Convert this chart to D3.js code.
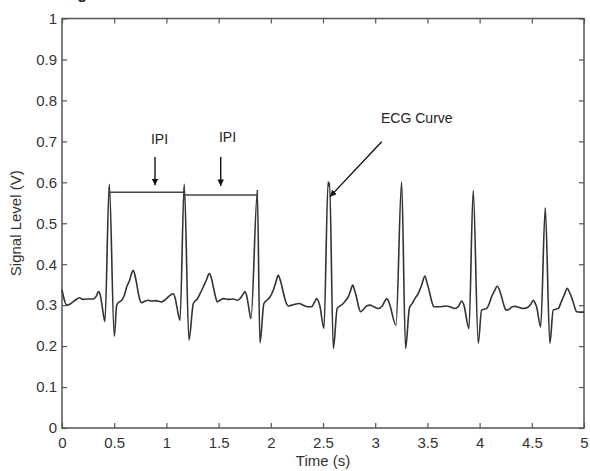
<!DOCTYPE html>
<meta charset="utf-8">
<style>
body { margin: 0; background: #fff; }
svg text { font-family: "Liberation Sans", Arial, sans-serif; fill: #333; }
.curve { fill: none; stroke: #333; stroke-width: 1.6px; stroke-linejoin: round; }
.frame { fill: none; stroke: #555; stroke-width: 1.5px; }
.axis path { display: none; }
.axis line { stroke: #555; stroke-width: 1.2px; }
.axis text { font-size: 15px; fill: #333; }
.bracket { stroke: #444; stroke-width: 1.5px; fill: none; }
.arrow { stroke: #111; stroke-width: 1.4px; }
</style>
<body>
<script src="https://d3js.org/d3.v7.min.js"></script>
<script>

// ECG trace
var time = [
  0.000, 0.020, 0.045, 0.080, 0.125, 0.169, 0.199, 0.239, 0.299, 0.329,
  0.349, 0.369, 0.383, 0.411, 0.453, 0.501, 0.524, 0.548, 0.572, 0.598,
  0.620, 0.647, 0.667, 0.683, 0.697, 0.717, 0.731, 0.747, 0.763, 0.797,
  0.827, 0.859, 0.896, 0.954, 0.996, 1.018, 1.046, 1.066, 1.086, 1.101,
  1.130, 1.171, 1.216, 1.258, 1.295, 1.322, 1.354, 1.384, 1.411, 1.429,
  1.449, 1.469, 1.488, 1.514, 1.545, 1.594, 1.640, 1.683, 1.705, 1.733,
  1.753, 1.773, 1.788, 1.810, 1.871, 1.896, 1.934, 1.962, 1.992, 2.022,
  2.047, 2.072, 2.092, 2.120, 2.141, 2.167, 2.201, 2.231, 2.271, 2.311,
  2.351, 2.390, 2.420, 2.439, 2.455, 2.470, 2.509, 2.549, 2.557, 2.563,
  2.599, 2.636, 2.664, 2.694, 2.719, 2.742, 2.764, 2.784, 2.804, 2.822,
  2.839, 2.861, 2.888, 2.918, 2.950, 2.988, 3.028, 3.068, 3.088, 3.110,
  3.127, 3.141, 3.199, 3.253, 3.291, 3.327, 3.357, 3.380, 3.412, 3.446,
  3.476, 3.496, 3.524, 3.546, 3.563, 3.607, 3.652, 3.685, 3.715, 3.764,
  3.795, 3.828, 3.850, 3.898, 3.939, 3.987, 4.019, 4.067, 4.094, 4.114,
  4.143, 4.169, 4.193, 4.211, 4.233, 4.252, 4.283, 4.313, 4.339, 4.382,
  4.418, 4.462, 4.492, 4.514, 4.532, 4.546, 4.585, 4.629, 4.673, 4.705,
  4.753, 4.785, 4.811, 4.840, 4.860, 4.880, 4.905, 4.929, 4.965, 5.000
];
var signal = [
  0.338, 0.315, 0.300, 0.303, 0.312, 0.318, 0.314, 0.315, 0.315, 0.322,
  0.333, 0.322, 0.300, 0.260, 0.595, 0.224, 0.300, 0.308, 0.312, 0.325,
  0.345, 0.360, 0.378, 0.385, 0.375, 0.350, 0.329, 0.312, 0.306, 0.310,
  0.312, 0.310, 0.311, 0.308, 0.315, 0.320, 0.326, 0.328, 0.315, 0.295,
  0.263, 0.595, 0.215, 0.304, 0.315, 0.328, 0.345, 0.362, 0.377, 0.368,
  0.345, 0.322, 0.308, 0.312, 0.316, 0.314, 0.315, 0.312, 0.316, 0.326,
  0.333, 0.318, 0.295, 0.267, 0.575, 0.208, 0.304, 0.312, 0.320, 0.335,
  0.355, 0.373, 0.360, 0.331, 0.310, 0.298, 0.300, 0.302, 0.304, 0.300,
  0.296, 0.296, 0.308, 0.316, 0.310, 0.298, 0.243, 0.601, 0.592, 0.598,
  0.194, 0.292, 0.298, 0.304, 0.312, 0.320, 0.335, 0.349, 0.335, 0.318,
  0.298, 0.284, 0.290, 0.298, 0.300, 0.296, 0.292, 0.298, 0.308, 0.316,
  0.310, 0.300, 0.251, 0.601, 0.194, 0.292, 0.305, 0.316, 0.328, 0.350,
  0.371, 0.355, 0.328, 0.305, 0.296, 0.296, 0.297, 0.298, 0.296, 0.292,
  0.296, 0.310, 0.300, 0.243, 0.580, 0.207, 0.288, 0.292, 0.305, 0.320,
  0.335, 0.346, 0.335, 0.320, 0.300, 0.288, 0.290, 0.296, 0.297, 0.294,
  0.292, 0.295, 0.303, 0.312, 0.305, 0.296, 0.247, 0.538, 0.207, 0.288,
  0.292, 0.310, 0.325, 0.341, 0.332, 0.320, 0.300, 0.284, 0.283, 0.283
];

var xTicks = [0, 0.5, 1, 1.5, 2, 2.5, 3, 3.5, 4, 4.5, 5];
var yTicks = [0, 0.1, 0.2, 0.3, 0.4, 0.5, 0.6, 0.7, 0.8, 0.9, 1];

// inter-peak intervals: [start, end, level]
var ipiStart = [0.453, 1.171];
var ipiEnd   = [1.171, 1.871];
var ipiLevel = [0.576, 0.569];

// annotation arrows (data units)
var notes = [
  {label: "IPI", tx: 0.934, ty: 0.694, x1: 0.891, y1: 0.662, x2: 0.891, y2: 0.593, anchor: "middle"},
  {label: "IPI", tx: 1.585, ty: 0.698, x1: 1.520, y1: 0.662, x2: 1.520, y2: 0.591, anchor: "middle"},
  {label: "ECG Curve", tx: 3.056, ty: 0.745, x1: 3.062, y1: 0.699, x2: 2.567, y2: 0.565, anchor: "start"}
];

var margin = {top: 18.5, right: 6, bottom: 43, left: 62},
    width = 590 - margin.left - margin.right,
    height = 471 - margin.top - margin.bottom;

var x = d3.scaleLinear().domain([0, 5]).range([0, width]);
var y = d3.scaleLinear().domain([0, 1]).range([height, 0]);

var svg = d3.select("body").append("svg")
    .attr("width", 590)
    .attr("height", 471);

// cut-off caption at the very top
svg.append("text")
    .attr("x", 63).attr("y", -1)
    .style("font-size", "16px").style("font-weight", "bold").style("fill", "#222")
    .text("Fig");

var defs = svg.append("defs");
defs.append("marker")
    .attr("id", "head")
    .attr("viewBox", "0 0 10 10")
    .attr("refX", 10).attr("refY", 5)
    .attr("markerWidth", 6.5).attr("markerHeight", 6.5)
    .attr("markerUnits", "userSpaceOnUse")
    .attr("orient", "auto")
  .append("path")
    .attr("d", "M0,0 L10,5 L0,10 z")
    .style("fill", "#111");

var g = svg.append("g")
    .attr("transform", "translate(" + margin.left + "," + margin.top + ")");

// axes, matlab style: ticks pointing inside on all four sides
g.append("g").attr("class", "axis")
    .attr("transform", "translate(0," + height + ")")
    .call(d3.axisBottom(x).tickValues(xTicks).tickSizeInner(-5).tickSizeOuter(0).tickPadding(9)
      .tickFormat(d3.format("")));
g.append("g").attr("class", "axis")
    .call(d3.axisTop(x).tickValues(xTicks).tickSizeInner(-5).tickSizeOuter(0).tickFormat(""));
g.append("g").attr("class", "axis")
    .call(d3.axisLeft(y).tickValues(yTicks).tickSizeInner(-5).tickSizeOuter(0).tickPadding(5)
      .tickFormat(d3.format("")));
g.append("g").attr("class", "axis")
    .attr("transform", "translate(" + width + ",0)")
    .call(d3.axisRight(y).tickValues(yTicks).tickSizeInner(-5).tickSizeOuter(0).tickFormat(""));

g.append("rect").attr("class", "frame")
    .attr("x", 0).attr("y", 0).attr("width", width).attr("height", height);

// the trace
var line = d3.line()
    .x(function(d, i) { return x(time[i]); })
    .y(function(d, i) { return y(signal[i]); })
    .curve(d3.curveMonotoneX);

g.append("path")
    .datum(time)
    .attr("class", "curve")
    .attr("d", line);

// IPI brackets
ipiStart.forEach(function(s, i) {
  g.append("line").attr("class", "bracket")
      .attr("x1", x(s)).attr("x2", x(ipiEnd[i]))
      .attr("y1", y(ipiLevel[i])).attr("y2", y(ipiLevel[i]));
  [s, ipiEnd[i]].forEach(function(e) {
    g.append("line").attr("class", "bracket")
        .attr("x1", x(e)).attr("x2", x(e))
        .attr("y1", y(ipiLevel[i]) - 5).attr("y2", y(ipiLevel[i]) + 5);
  });
});

// annotations
notes.forEach(function(n) {
  g.append("line").attr("class", "arrow")
      .attr("x1", x(n.x1)).attr("y1", y(n.y1))
      .attr("x2", x(n.x2)).attr("y2", y(n.y2))
      .attr("marker-end", "url(#head)");
  g.append("text")
      .attr("x", x(n.tx)).attr("y", y(n.ty))
      .attr("text-anchor", n.anchor)
      .style("font-size", "14px").style("fill", "#222")
      .text(n.label);
});

// axis titles
svg.append("text")
    .attr("x", margin.left + width / 2).attr("y", 466)
    .attr("text-anchor", "middle")
    .style("font-size", "15px")
    .text("Time (s)");
svg.append("text")
    .attr("transform", "translate(21," + (margin.top + height / 2) + ") rotate(-90)")
    .attr("text-anchor", "middle")
    .style("font-size", "15px")
    .text("Signal Level (V)");

</script>
</body>
